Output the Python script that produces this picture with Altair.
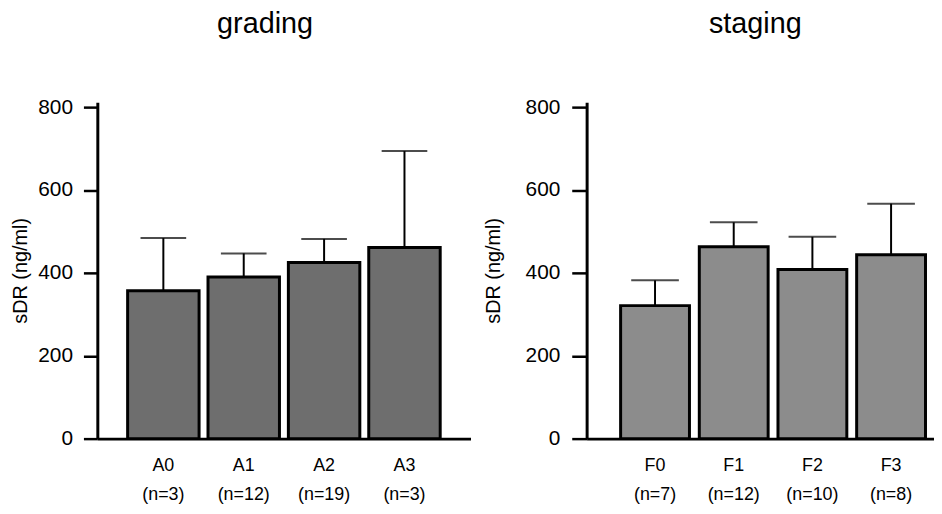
import altair as alt
import pandas as pd

# ---- data ----
grading_cats = ["A0", "A1", "A2", "A3"]
grading_n = ["(n=3)", "(n=12)", "(n=19)", "(n=3)"]
grading_mean = [357, 390, 425, 461]
grading_upper = [484, 447, 482, 694]

staging_cats = ["F0", "F1", "F2", "F3"]
staging_n = ["(n=7)", "(n=12)", "(n=10)", "(n=8)"]
staging_mean = [321, 463, 408, 444]
staging_upper = [382, 522, 487, 567]

y_ticks = [0, 200, 400, 600, 800]

FONT = "Liberation Sans"


def panel(cats, ns, means, uppers, title, fill, width, p_in, p_out, align,
          cap, title_dx, tick_size, label_pad, title_pad):
    df = pd.DataFrame({
        "cat": [f"{c}|{n}" for c, n in zip(cats, ns)],
        "mean": means,
        "upper": uppers,
    })
    xscale = alt.Scale(paddingInner=p_in, paddingOuter=p_out, align=align)
    x = alt.X("cat:N", sort=None, title=None, scale=xscale,
              axis=alt.Axis(labelExpr="split(datum.value, '|')", labelAngle=0,
                            ticks=False, labelFontSize=18, labelLineHeight=29,
                            labelPadding=18, domainWidth=3, domainColor="black",
                            labelColor="black", labelFont=FONT))
    y = alt.Y("mean:Q", title="sDR (ng/ml)",
              scale=alt.Scale(domain=[0, 812], nice=False, zero=True),
              axis=alt.Axis(values=y_ticks, tickSize=tick_size, tickWidth=2.5,
                            tickColor="black", domainWidth=3, domainColor="black",
                            labelFontSize=21, labelFont=FONT, labelColor="black",
                            labelPadding=label_pad, titleFontSize=20,
                            titleFont=FONT, titleFontWeight="normal",
                            titleColor="black", titlePadding=title_pad,
                            grid=False))
    base = alt.Chart(df)
    bars = base.mark_bar(fill=fill, stroke="black", strokeWidth=3).encode(x=x, y=y)
    whisk = base.mark_rule(color="black", strokeWidth=2).encode(
        x=alt.X("cat:N", sort=None), y="mean:Q", y2="upper:Q")
    caps = base.mark_tick(color="black", thickness=2, size=cap,
                          orient="horizontal").encode(
        x=alt.X("cat:N", sort=None), y="upper:Q")
    return alt.layer(bars, whisk, caps).properties(
        width=width, height=339,
        title=alt.TitleParams(title, fontSize=29, fontWeight="normal", font=FONT,
                              color="black", anchor="middle", frame="group",
                              dx=title_dx, offset=58),
    )


left = panel(grading_cats, grading_n, grading_mean, grading_upper, "grading",
             "#6e6e6e", 376, 0.111, 0.377, 0.5, 46, -19, 14, 11, 7)
right = panel(staging_cats, staging_n, staging_mean, staging_upper, "staging",
              "#8c8c8c", 350, 0.125, 0.27, 0.8, 48, -5, 15, 12, 22)

chart = alt.hconcat(left, right, spacing=12).properties(
    padding={"left": 2, "top": 0, "right": 0, "bottom": 0}
).configure(font=FONT).configure_view(stroke=None)

chart.save("out.html", embed_options={"renderer": "svg", "actions": False})
